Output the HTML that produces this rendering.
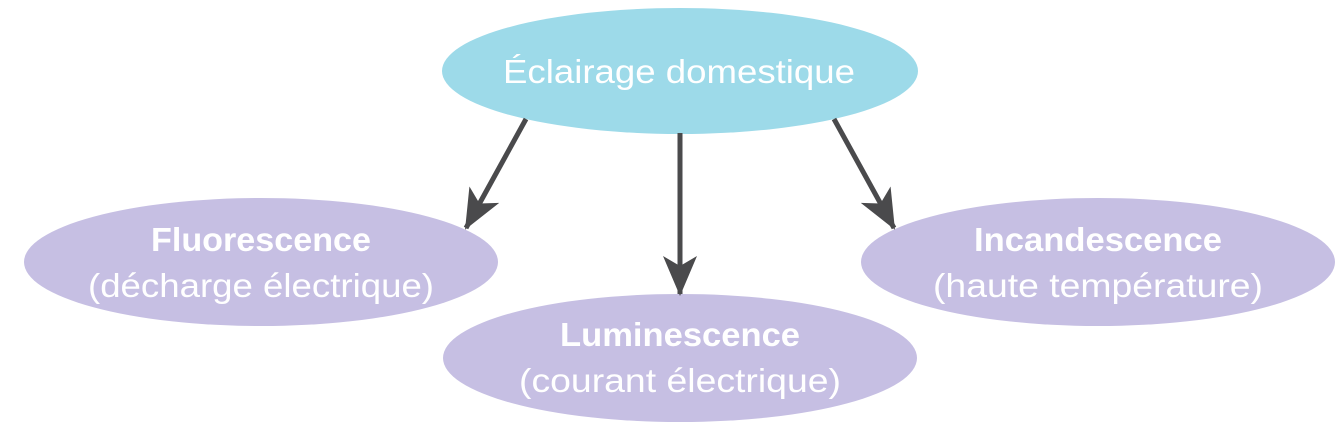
<!DOCTYPE html>
<html><head><meta charset="utf-8"><style>
body{margin:0;background:#fff;width:1344px;height:428px;overflow:hidden}
text{font-family:"Liberation Sans",sans-serif;fill:#fff;text-anchor:middle}
</style></head><body>
<svg width="1344" height="428" viewBox="0 0 1344 428">
<defs><marker id="a" viewBox="0 0 40 36" refX="38" refY="18" markerWidth="40" markerHeight="36" markerUnits="userSpaceOnUse" orient="auto">
<path d="M40 18 L0 1 L10 18 L0 35 Z" fill="#4a4a4c"/></marker></defs>
<ellipse cx="680" cy="71" rx="238" ry="63" fill="#9ddae9"/>
<ellipse cx="261" cy="262" rx="237" ry="64" fill="#c6bfe3"/>
<ellipse cx="680" cy="358" rx="237" ry="64" fill="#c6bfe3"/>
<ellipse cx="1098" cy="262" rx="237" ry="64" fill="#c6bfe3"/>
<g stroke="#4a4a4c" stroke-width="5" marker-end="url(#a)">
<line x1="526" y1="119" x2="466" y2="228"/>
<line x1="680" y1="133" x2="680" y2="294"/>
<line x1="834" y1="119" x2="894" y2="228"/>
</g>
<g font-size="33">
<text x="679" y="83" textLength="352" lengthAdjust="spacingAndGlyphs">Éclairage domestique</text>
<text x="261" y="251" font-weight="bold" textLength="220" lengthAdjust="spacingAndGlyphs">Fluorescence</text>
<text x="261" y="297" textLength="346" lengthAdjust="spacingAndGlyphs">(décharge électrique)</text>
<text x="680" y="346" font-weight="bold" textLength="240" lengthAdjust="spacingAndGlyphs">Luminescence</text>
<text x="680" y="392" textLength="322" lengthAdjust="spacingAndGlyphs">(courant électrique)</text>
<text x="1098" y="251" font-weight="bold" textLength="248" lengthAdjust="spacingAndGlyphs">Incandescence</text>
<text x="1098" y="297" textLength="330" lengthAdjust="spacingAndGlyphs">(haute température)</text>
</g>
</svg>
</body></html>
